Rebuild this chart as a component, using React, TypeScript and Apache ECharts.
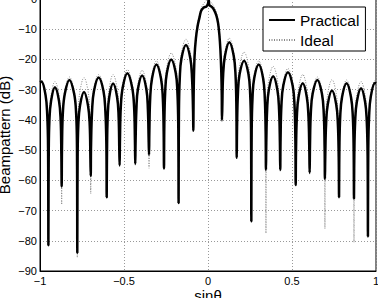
import React, { useEffect, useRef } from "react";
import * as echarts from "echarts";

// sin(theta) sample positions (nulls, lobe flanks, lobe peaks)
const sinTheta = [
  -1.0, -0.992, -0.967, -0.957, -0.952, -0.95,
  -0.948, -0.944, -0.934, -0.911, -0.887, -0.877, -0.873, -0.871,
  -0.869, -0.864, -0.852, -0.825, -0.797, -0.785, -0.78, -0.778,
  -0.776, -0.772, -0.762, -0.738, -0.714, -0.704, -0.7, -0.698,
  -0.696, -0.69, -0.679, -0.651, -0.622, -0.611, -0.605, -0.603,
  -0.601, -0.597, -0.588, -0.565, -0.541, -0.532, -0.528, -0.526,
  -0.524, -0.519, -0.507, -0.48, -0.452, -0.44, -0.435, -0.433,
  -0.431, -0.426, -0.417, -0.392, -0.367, -0.358, -0.353, -0.351,
  -0.349, -0.344, -0.333, -0.307, -0.28, -0.269, -0.264, -0.262,
  -0.26, -0.255, -0.245, -0.219, -0.192, -0.182, -0.177, -0.175,
  -0.173, -0.168, -0.158, -0.131, -0.105, -0.095, -0.089, -0.0875,
  -0.085, -0.08, -0.072, -0.062, -0.05, -0.04, -0.025, -0.01, 0.0, 0.004, 0.008, 0.02, 0.035, 0.05, 0.06, 0.068, 0.074, 0.079, 0.082, 0.083,
  0.085, 0.09, 0.101, 0.127, 0.153, 0.164, 0.169, 0.171,
  0.173, 0.178, 0.188, 0.215, 0.241, 0.251, 0.256, 0.258,
  0.26, 0.265, 0.275, 0.302, 0.328, 0.338, 0.343, 0.345,
  0.347, 0.352, 0.362, 0.388, 0.413, 0.423, 0.428, 0.43,
  0.432, 0.437, 0.448, 0.476, 0.504, 0.515, 0.52, 0.522,
  0.524, 0.529, 0.539, 0.564, 0.588, 0.598, 0.603, 0.605,
  0.607, 0.612, 0.623, 0.651, 0.678, 0.689, 0.694, 0.696,
  0.698, 0.703, 0.713, 0.738, 0.763, 0.773, 0.778, 0.78,
  0.782, 0.787, 0.798, 0.825, 0.851, 0.862, 0.867, 0.869,
  0.871, 0.876, 0.886, 0.911, 0.935, 0.945, 0.95, 0.952,
  0.954, 0.959, 0.969, 0.994, 1.0,
];

// Practical beampattern (dB)
const practicalDb = [
  -27.5, -27.3, -31.8, -38.3, -49.3, -81.5,
  -51.2, -40.2, -33.7, -29.2, -33.7, -40.2, -51.2, -62,
  -48.8, -37.8, -31.3, -26.8, -31.3, -37.8, -48.8, -84,
  -52.8, -41.8, -35.3, -30.8, -35.3, -41.8, -52.8, -58.5,
  -48, -37, -30.5, -26, -30.5, -37, -48, -65.5,
  -50, -39, -32.5, -28, -32.5, -39, -50, -55,
  -46.6, -35.6, -29.1, -24.6, -29.1, -35.6, -46.6, -54.5,
  -47.3, -36.3, -29.8, -25.3, -29.8, -36.3, -47.3, -51.5,
  -43.7, -32.7, -26.2, -21.7, -26.2, -32.7, -43.7, -56,
  -42, -31, -24.5, -20, -24.5, -31, -42, -67.5,
  -37.2, -26.2, -19.7, -15.2, -19.7, -26.2, -37.2, -43.5,
  -30, -19, -13, -9, -6, -3.8, -2.8, -2.5, -1.5, -0.2, -2, -2.5, -3.5, -5.5, -8, -12, -17, -24, -32, -40,
  -36.3, -25.3, -18.8, -14.3, -18.8, -25.3, -36.3, -52.5,
  -42.4, -31.4, -24.9, -20.4, -24.9, -31.4, -42.4, -73.5,
  -43.7, -32.7, -26.2, -21.7, -26.2, -32.7, -43.7, -56.5,
  -47.6, -36.6, -30.1, -25.6, -30.1, -36.6, -47.6, -56.5,
  -46.2, -35.2, -28.7, -24.2, -28.7, -35.2, -46.2, -61.5,
  -49.9, -38.9, -32.4, -27.9, -32.4, -38.9, -49.9, -57.5,
  -48.8, -37.8, -31.3, -26.8, -31.3, -37.8, -48.8, -59.5,
  -52.3, -41.3, -34.8, -30.3, -34.8, -41.3, -52.3, -65.5,
  -49.9, -38.9, -32.4, -27.9, -32.4, -38.9, -49.9, -66,
  -51.5, -40.5, -34, -29.5, -34, -40.5, -51.5, -78.5,
  -49.8, -38.8, -32.3, -27.8, -28,
];

// Ideal beampattern (dB)
const idealDb = [
  -27, -26.8, -31.3, -37.8, -48.8, -82,
  -49.3, -38.3, -31.8, -27.3, -31.8, -38.3, -49.3, -68,
  -47.8, -36.8, -30.3, -25.8, -30.3, -36.8, -47.8, -85.5,
  -48, -37, -30.5, -26, -30.5, -37, -48, -64.5,
  -47, -36, -29.5, -25, -29.5, -36, -47, -66,
  -47, -36, -29.5, -25, -29.5, -36, -47, -55.5,
  -45.4, -34.4, -27.9, -23.4, -27.9, -34.4, -45.4, -55,
  -45.6, -34.6, -28.1, -23.6, -28.1, -34.6, -45.6, -56,
  -42.5, -31.5, -25, -20.5, -25, -31.5, -42.5, -56.5,
  -39.9, -28.9, -22.4, -17.9, -22.4, -28.9, -39.9, -68,
  -35.3, -24.3, -17.8, -13.3, -17.8, -24.3, -35.3, -44,
  -29, -18, -12, -8, -5, -3, -1.5, -0.5, 0, -0.2, -0.5, -1.2, -2.5, -4.5, -7, -11, -16, -23, -31, -40.5,
  -35, -24, -17.5, -13, -17.5, -24, -35, -53,
  -39.6, -28.6, -22.1, -17.6, -22.1, -28.6, -39.6, -74,
  -42.5, -31.5, -25, -20.5, -25, -31.5, -42.5, -77.5,
  -44.3, -33.3, -26.8, -22.3, -26.8, -33.3, -44.3, -57,
  -45, -34, -27.5, -23, -27.5, -34, -45, -62,
  -47, -36, -29.5, -25, -29.5, -36, -47, -58,
  -47.8, -36.8, -30.3, -25.8, -30.3, -36.8, -47.8, -76,
  -48.7, -37.7, -31.2, -26.7, -31.2, -37.7, -48.7, -66,
  -48.8, -37.8, -31.3, -26.8, -31.3, -37.8, -48.8, -80.5,
  -49.3, -38.3, -31.8, -27.3, -31.8, -38.3, -49.3, -79,
  -49, -38, -31.5, -27, -27.2,
];

const seriesNames = ["Practical", "Ideal"];
const FONT = "Liberation Sans, Arial, Helvetica, sans-serif";

export default function App() {
  const ref = useRef<HTMLDivElement>(null);
  useEffect(() => {
    if (!ref.current) return;
    const chart = echarts.init(ref.current, null, { renderer: "svg" });
    const fmt = (v: number) => String(v).replace("-", "\u2212");
    const practical = sinTheta.map((x, i) => [x, practicalDb[i]]);
    const ideal = sinTheta.map((x, i) => [x, idealDb[i]]);
    chart.setOption({
      animation: false,
      backgroundColor: "#fff",
      grid: {
        left: 40,
        right: 2,
        top: -1,
        bottom: 27,
        containLabel: false,
        outerBoundsMode: "none",
        show: true,
        borderColor: "#000",
        borderWidth: 1,
        backgroundColor: "transparent",
      },
      legend: {
        data: seriesNames,
        orient: "vertical",
        left: 263,
        top: 7,
        padding: [5, 6, 3, 5],
        itemGap: 4,
        itemWidth: 26,
        itemHeight: 10,
        backgroundColor: "#fff",
        borderColor: "#000",
        borderWidth: 1,
        borderRadius: 0,
        itemStyle: { opacity: 0 },
        textStyle: { fontSize: 15.5, fontFamily: FONT, color: "#000", lineHeight: 16 },
      },
      xAxis: {
        type: "value",
        min: -1,
        max: 1,
        interval: 0.5,
        name: "sin\u03b8",
        nameLocation: "middle",
        nameGap: 17,
        nameMoveOverlap: false,
        nameTextStyle: { fontSize: 15, fontFamily: FONT, color: "#000" },
        axisLine: { show: true, onZero: false, lineStyle: { color: "#000", width: 1 } },
        axisTick: { show: false },
        axisLabel: { formatter: fmt, color: "#000", fontSize: 11, fontFamily: FONT, margin: 4 },
        splitLine: { show: true, lineStyle: { color: "#999", width: 1, type: [1, 2] } },
      },
      yAxis: {
        type: "value",
        min: -90,
        max: 0,
        interval: 10,
        name: "Beampattern (dB)",
        nameLocation: "middle",
        nameGap: 28,
        nameMoveOverlap: false,
        nameTextStyle: { fontSize: 15, fontFamily: FONT, color: "#000" },
        axisLine: { show: true, onZero: false, lineStyle: { color: "#000", width: 1 } },
        axisTick: { show: false },
        axisLabel: { formatter: fmt, color: "#000", fontSize: 11, fontFamily: FONT, margin: 3 },
        splitLine: { show: true, lineStyle: { color: "#999", width: 1, type: [1, 2] } },
      },
      series: [
        {
          name: "Ideal",
          type: "line",
          data: ideal,
          symbol: "none",
          showSymbol: false,
          smooth: 0.4,
          z: 2,
          itemStyle: { color: "#888" },
          lineStyle: { color: "#888", width: 1, type: [1, 1.5] },
        },
        {
          name: "Practical",
          type: "line",
          data: practical,
          symbol: "none",
          showSymbol: false,
          smooth: 0.4,
          z: 3,
          itemStyle: { color: "#000" },
          lineStyle: { color: "#000", width: 2.5 },
        },
      ],
    });
    return () => chart.dispose();
  }, []);
  return (
    <div
      ref={ref}
      style={{ position: "fixed", left: 0, top: 0, width: 378, height: 298 }}
    />
  );
}
